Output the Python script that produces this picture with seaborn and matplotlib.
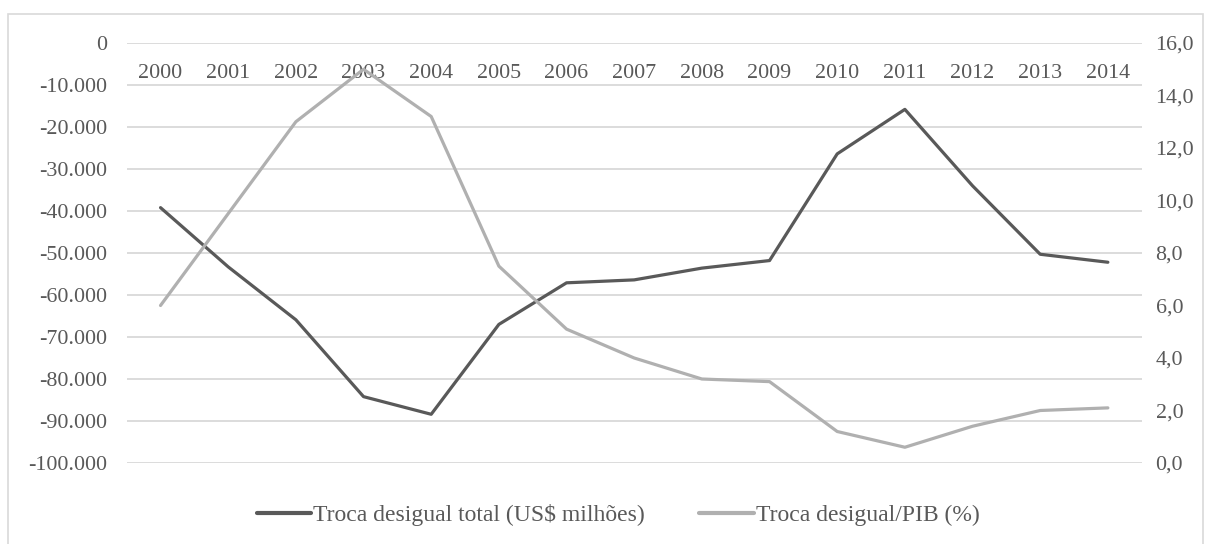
import matplotlib
matplotlib.use("Agg")
import matplotlib.pyplot as plt
import seaborn as sns
import pandas as pd
from matplotlib.patches import Rectangle
from matplotlib.ticker import FuncFormatter, MultipleLocator

years = [2000, 2001, 2002, 2003, 2004, 2005, 2006, 2007, 2008, 2009, 2010, 2011, 2012, 2013, 2014]
troca_total = [-39200, -53300, -65900, -84200, -88400, -67000, -57100, -56400, -53600, -51800,
               -26400, -15800, -34000, -50300, -52200]
troca_pib = [6.0, 9.5, 13.0, 15.0, 13.2, 7.5, 5.1, 4.0, 3.2, 3.1, 1.2, 0.6, 1.4, 2.0, 2.1]

label_total = "Troca desigual total (US\\$ milhões)"
label_pib = "Troca desigual/PIB (%)"

df = pd.DataFrame({"ano": years, "total": troca_total, "pib": troca_pib})

sns.set_theme(style="white")
plt.rcParams["font.family"] = ["Liberation Serif", "DejaVu Serif"]
TXT = "#595959"
FS = 15.8
FS_LEG = 17

fig = plt.figure(figsize=(12.05, 5.44), dpi=100)
W, H = 1205, 544
ax = fig.add_axes([126.7 / W, 1 - 463 / H, (1141.7 - 126.7) / W, (463 - 43) / H])
ax2 = ax.twinx()

# outer border
fig.patches.append(Rectangle((8 / W, -0.05), (1203 - 8) / W, 1.05 - 14 / H,
                             transform=fig.transFigure, fill=False,
                             edgecolor="#d9d9d9", linewidth=1.2, zorder=0))

sns.lineplot(data=df, x="ano", y="total", ax=ax, color="#595959", linewidth=2.3,
             label=label_total, legend=False, zorder=3)
sns.lineplot(data=df, x="ano", y="pib", ax=ax2, color="#b0b0b0", linewidth=2.3,
             label=label_pib, legend=False, zorder=3)

ax.set_xlim(years[0] - 0.5, years[-1] + 0.5)
ax.set_ylim(-100000, 0)
ax2.set_ylim(0, 16)
ax.yaxis.set_major_locator(MultipleLocator(10000))
ax2.yaxis.set_major_locator(MultipleLocator(2))
ax.yaxis.set_major_formatter(FuncFormatter(lambda v, p: f"{int(round(v)):,}".replace(",", ".")))
ax2.yaxis.set_major_formatter(FuncFormatter(lambda v, p: f"{v:.1f}".replace(".", ",")))
ax.set_xticks(years)
ax.set_xticklabels([str(y) for y in years])

ax.grid(axis="y", color="#d9d9d9", linewidth=1.3)
ax.grid(axis="x", visible=False)
ax2.grid(False)
ax.set_axisbelow(True)
for a in (ax, ax2):
    for s in a.spines.values():
        s.set_visible(False)
    a.set_xlabel("")
    a.set_ylabel("")
    a.patch.set_visible(False)

ax.tick_params(axis="x", top=True, labeltop=True, bottom=False, labelbottom=False,
               length=0, pad=-28.5, labelsize=FS, labelcolor=TXT)
ax.tick_params(axis="y", length=0, pad=14, labelsize=FS, labelcolor=TXT)
ax2.tick_params(axis="y", length=0, pad=10, labelsize=FS, labelcolor=TXT)

h1, l1 = ax.get_legend_handles_labels()
h2, l2 = ax2.get_legend_handles_labels()
leg = fig.legend(h1 + h2, l1 + l2, loc="center", bbox_to_anchor=(0.513, 1 - 515 / H),
                 ncol=2, frameon=False, fontsize=FS_LEG, handlelength=2.3, handletextpad=0.1,
                 columnspacing=2.3)
for t in leg.get_texts():
    t.set_color(TXT)
for line in leg.get_lines():
    line.set_linewidth(3)

fig.savefig("out.png", dpi=100)
